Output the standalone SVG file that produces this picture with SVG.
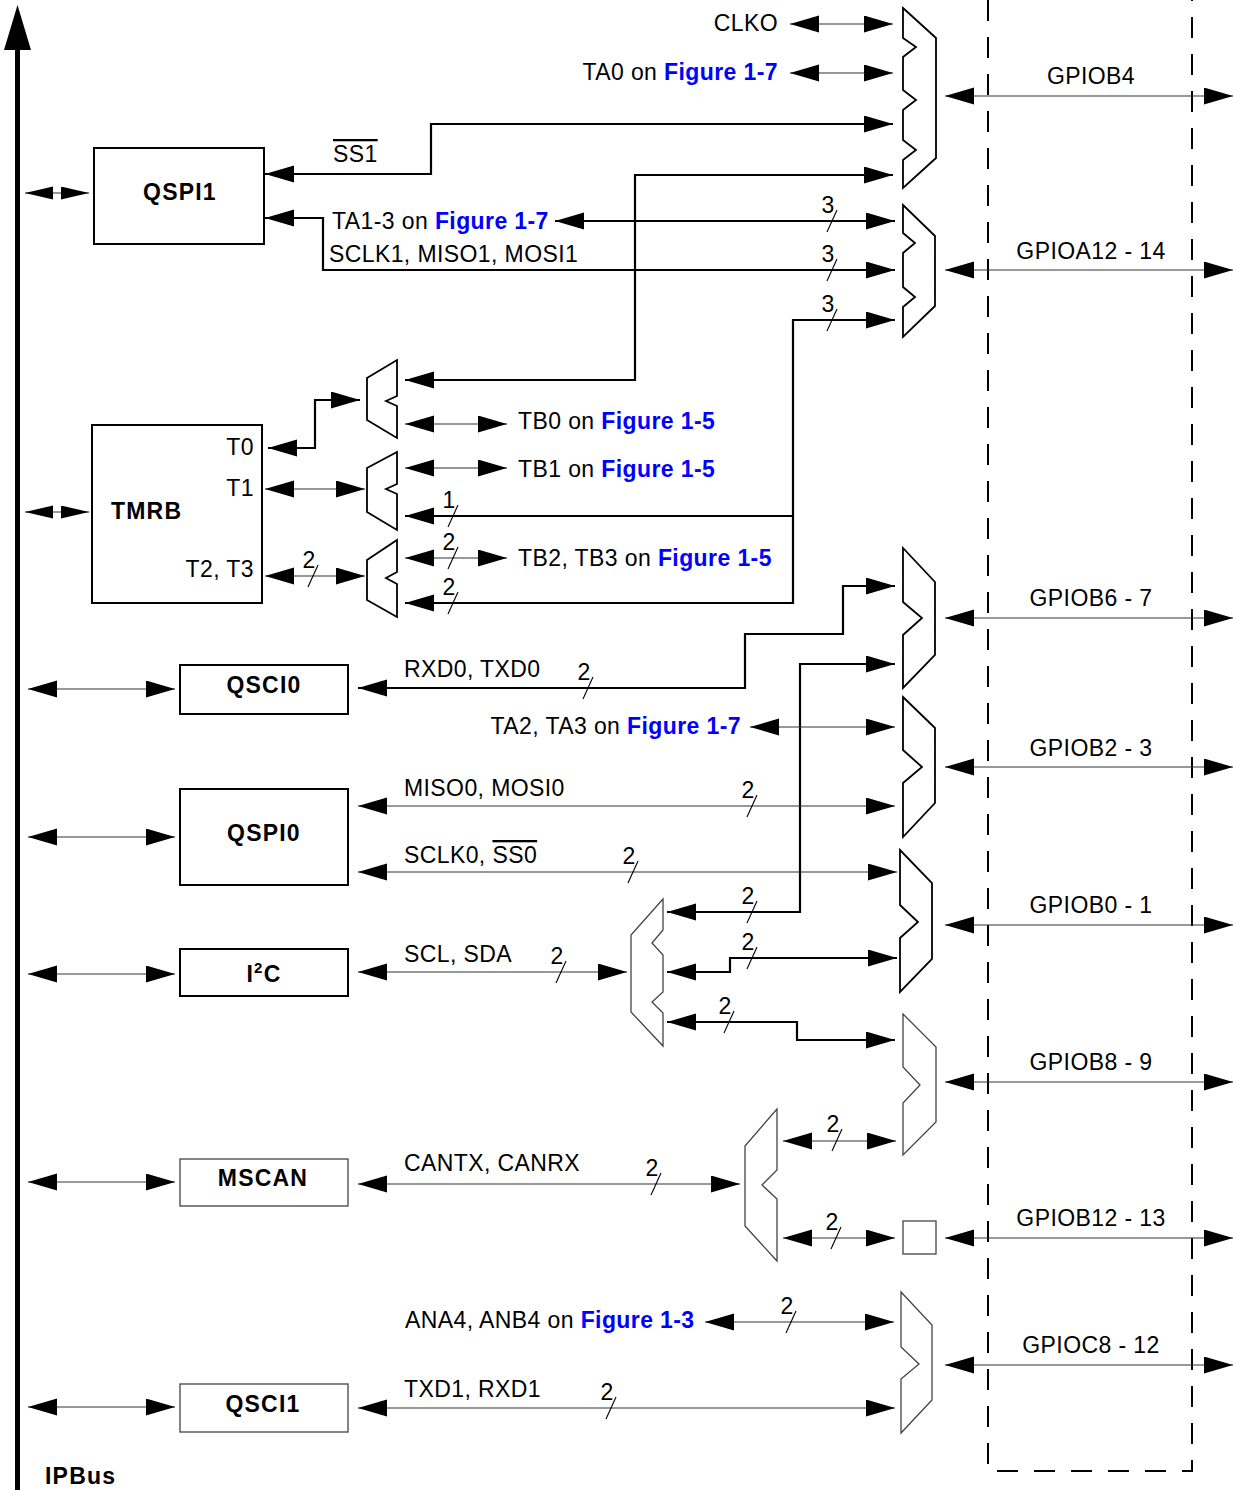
<svg xmlns="http://www.w3.org/2000/svg" width="1233" height="1490" viewBox="0 0 1233 1490">
<style>
.t{font-family:"Liberation Sans",Arial,sans-serif;font-size:23px;letter-spacing:0.4px;fill:#000}
.b{font-weight:bold;letter-spacing:1.2px}
.f{fill:#0000ff;font-weight:bold}
.m{text-anchor:middle}
.e{text-anchor:end}
.thin{fill:none;stroke:#333;stroke-width:1.2}
.thick{fill:none;stroke:#000;stroke-width:2.2}
.bi{marker-start:url(#ah);marker-end:url(#ah)}
.bis{marker-start:url(#ahs);marker-end:url(#ahs)}
.one{marker-end:url(#ah)}
.box{fill:#fff;stroke:#000;stroke-width:2}
.box2{fill:#fff;stroke:#444;stroke-width:1.3}
.mux{fill:#fff;stroke:#000;stroke-width:1.8}
.mux2{fill:#fff;stroke:#444;stroke-width:1.3}
.sl{stroke:#000;stroke-width:1.1}
.ov{text-decoration:overline}
</style>
<defs>
<marker id="ah" markerUnits="userSpaceOnUse" markerWidth="30" markerHeight="18" viewBox="0 0 30 18" refX="29" refY="8.5" orient="auto-start-reverse"><path d="M0,0 L29,8.5 L0,17 z" fill="#000"/></marker>
<marker id="ahs" markerUnits="userSpaceOnUse" markerWidth="30" markerHeight="14" viewBox="0 0 30 14" refX="28" refY="6.5" orient="auto-start-reverse"><path d="M0,0 L28,6.5 L0,13 z" fill="#000"/></marker>
</defs>
<rect width="1233" height="1490" fill="#fff"/>

<!-- dashed pad region -->
<g id="pad-region">
<path d="M988,0 V1471 H1192 V0" fill="none" stroke="#000" stroke-width="2" stroke-dasharray="21 16"/>
</g>

<!-- IPBus -->
<g id="ipbus">
<line x1="17.5" y1="45" x2="17.5" y2="1490" stroke="#000" stroke-width="5"/>
<polygon points="17.5,5 31,50 4,50" fill="#000"/>
<text class="t b" x="45" y="1484">IPBus</text>
</g>

<g id="connectors">
<!-- top mux inputs -->
<path class="thin bi" d="M790,24 H893"/>
<path class="thin bi" d="M790,73 H893"/>
<path class="thick bi" d="M893,124 H431 V174 H265"/>
<path class="thick bi" d="M405,380 H635 V175 H893"/>
<!-- mux2 inputs -->
<path class="thick bi" d="M555,221 H895"/>
<path class="thick bi" d="M265,218 H323 V270 H895"/>
<path class="thick bi" d="M895,320 H793 V603 H405"/>
<path class="thick one" d="M793,516 H405"/>
<!-- TMRB -->
<path class="thick bi" d="M268,448 H315 V400 H360"/>
<path class="thin bi" d="M405,424 H507"/>
<path class="thin bi" d="M405,468 H507"/>
<path class="thin bi" d="M265,489 H365"/>
<path class="thin bi" d="M405,558 H507"/>
<path class="thin bi" d="M265,576 H365"/>
<path class="thin bis" d="M25,193 H89"/>
<path class="thin bis" d="M25,512 H89"/>
<!-- middle -->
<path class="thick bi" d="M358,688 H745 V634 H843 V586 H895"/>
<path class="thick bi" d="M895,664 H800 V912 H667"/>
<path class="thin bi" d="M750,727 H895"/>
<path class="thin bi" d="M358,806 H895"/>
<path class="thin bi" d="M358,872 H897"/>
<path class="thin bi" d="M358,972 H627"/>
<path class="thick bi" d="M667,972 H730 V958 H897"/>
<path class="thick bi" d="M667,1022 H797 V1040 H895"/>
<path class="thin bi" d="M358,1184 H740"/>
<path class="thin bi" d="M783,1141 H896"/>
<path class="thin bi" d="M783,1238 H895"/>
<path class="thin bi" d="M705,1322 H894"/>
<path class="thin bi" d="M358,1408 H895"/>
<!-- IPBus to modules -->
<path class="thin bi" d="M28,689 H175"/>
<path class="thin bi" d="M28,837 H175"/>
<path class="thin bi" d="M28,974 H175"/>
<path class="thin bi" d="M28,1182 H175"/>
<path class="thin bi" d="M28,1407 H175"/>
<!-- GPIO pads -->
<path class="thin bi" d="M945,96 H1233"/>
<path class="thin bi" d="M945,270 H1233"/>
<path class="thin bi" d="M945,618 H1233"/>
<path class="thin bi" d="M945,767 H1233"/>
<path class="thin bi" d="M945,925 H1233"/>
<path class="thin bi" d="M945,1082 H1233"/>
<path class="thin bi" d="M945,1238 H1233"/>
<path class="thin bi" d="M945,1365 H1233"/>
<!-- bus width slashes -->
<g class="sl">
<line x1="827" y1="232" x2="837" y2="210"/>
<line x1="827" y1="281" x2="837" y2="259"/>
<line x1="827" y1="331" x2="837" y2="309"/>
<line x1="448" y1="527" x2="458" y2="505"/>
<line x1="448" y1="569" x2="458" y2="547"/>
<line x1="448" y1="614" x2="458" y2="592"/>
<line x1="308" y1="587" x2="318" y2="565"/>
<line x1="583" y1="699" x2="593" y2="677"/>
<line x1="747" y1="817" x2="757" y2="795"/>
<line x1="628" y1="883" x2="638" y2="861"/>
<line x1="747" y1="923" x2="757" y2="901"/>
<line x1="747" y1="969" x2="757" y2="947"/>
<line x1="724" y1="1033" x2="734" y2="1011"/>
<line x1="556" y1="983" x2="566" y2="961"/>
<line x1="651" y1="1195" x2="661" y2="1173"/>
<line x1="832" y1="1151" x2="842" y2="1129"/>
<line x1="831" y1="1249" x2="841" y2="1227"/>
<line x1="786" y1="1333" x2="796" y2="1311"/>
<line x1="606" y1="1419" x2="616" y2="1397"/>
</g>
</g>

<!-- bus width numbers -->
<g id="bus-widths" class="t m">
<text x="828" y="213">3</text>
<text x="828" y="262">3</text>
<text x="828" y="312">3</text>
<text x="449" y="508">1</text>
<text x="449" y="550">2</text>
<text x="449" y="595">2</text>
<text x="309" y="568">2</text>
<text x="584" y="680">2</text>
<text x="748" y="798">2</text>
<text x="629" y="864">2</text>
<text x="748" y="904">2</text>
<text x="748" y="950">2</text>
<text x="725" y="1014">2</text>
<text x="557" y="964">2</text>
<text x="652" y="1176">2</text>
<text x="833" y="1132">2</text>
<text x="832" y="1230">2</text>
<text x="787" y="1314">2</text>
<text x="607" y="1400">2</text>
</g>

<!-- muxes -->
<g id="mux-gpiob4"><polygon class="mux" points="903,8 936,38 936,158 903,188 903,160 916,150 903,140 903,110 916,100 903,90 903,57 916,47 903,38"/></g>
<g id="mux-gpioa"><polygon class="mux" points="903,205 935,236 935,306 903,337 903,307 915,297 903,287 903,253 915,243 903,233"/></g>
<g id="mux-t0"><polygon class="mux" points="397,360 397,396 386,401 397,406 397,438 367,420 367,378"/></g>
<g id="mux-t1"><polygon class="mux" points="397,452 397,484 386,489 397,494 397,530 367,512 367,468"/></g>
<g id="mux-t23"><polygon class="mux" points="397,540 397,572 386,578 397,584 397,617 367,600 367,560"/></g>
<g id="mux-gpiob6"><polygon class="mux" points="903,548 935,582 935,655 903,688 903,635 922,618 903,602"/></g>
<g id="mux-gpiob2"><polygon class="mux" points="903,697 935,728 935,803 903,837 903,783 922,767 903,750"/></g>
<g id="mux-gpiob0"><polygon class="mux" points="900,850 932,883 932,959 900,992 900,938 918,922 900,905"/></g>
<g id="mux-i2c"><polygon class="mux2" points="663,899 663,930 652,943 663,955 663,992 652,1002 663,1013 663,1046 631,1012 631,935"/></g>
<g id="mux-gpiob8"><polygon class="mux2" points="903,1014 936,1047 936,1122 903,1155 903,1103 920,1085 903,1067"/></g>
<g id="mux-mscan"><polygon class="mux2" points="777,1109 777,1170 762,1185 777,1199 777,1261 745,1226 745,1146"/></g>
<g id="pad-gpiob12"><rect class="box2" x="903" y="1221" width="33" height="33"/></g>
<g id="mux-gpioc"><polygon class="mux2" points="901,1292 932,1325 932,1400 901,1433 901,1379 919,1364 901,1347"/></g>

<!-- modules -->
<g id="qspi1"><rect class="box" x="94" y="148" width="170" height="96"/><text class="t b m" x="180" y="200">QSPI1</text></g>
<g id="tmrb"><rect class="box" x="92" y="425" width="170" height="178"/><text class="t b" x="111" y="519">TMRB</text>
<text class="t e" x="254" y="455">T0</text><text class="t e" x="254" y="496">T1</text><text class="t e" x="254" y="577">T2, T3</text></g>
<g id="qsci0"><rect class="box" x="180" y="665" width="168" height="49"/><text class="t b m" x="264" y="693">QSCI0</text></g>
<g id="qspi0"><rect class="box" x="180" y="789" width="168" height="96"/><text class="t b m" x="264" y="841">QSPI0</text></g>
<g id="i2c"><rect class="box" x="180" y="949" width="168" height="47"/><text class="t b m" x="264" y="982">I<tspan font-size="15" dy="-9">2</tspan><tspan dy="9">C</tspan></text></g>
<g id="mscan"><rect class="box2" x="180" y="1159" width="168" height="47"/><text class="t b m" x="263" y="1186">MSCAN</text></g>
<g id="qsci1"><rect class="box2" x="180" y="1384" width="168" height="48"/><text class="t b m" x="263" y="1412">QSCI1</text></g>

<!-- signal labels -->
<g id="labels" class="t">
<text class="e" x="778" y="31">CLKO</text>
<text class="e" x="778" y="80">TA0 on <tspan class="f">Figure 1-7</tspan></text>
<text x="333" y="162"><tspan class="ov">SS1</tspan></text>
<text x="332" y="229">TA1-3 on <tspan class="f">Figure 1-7</tspan></text>
<text x="329" y="262">SCLK1, MISO1, MOSI1</text>
<text x="518" y="429">TB0 on <tspan class="f">Figure 1-5</tspan></text>
<text x="518" y="477">TB1 on <tspan class="f">Figure 1-5</tspan></text>
<text x="518" y="566">TB2, TB3 on <tspan class="f">Figure 1-5</tspan></text>
<text x="404" y="677">RXD0, TXD0</text>
<text class="e" x="741" y="734">TA2, TA3 on <tspan class="f">Figure 1-7</tspan></text>
<text x="404" y="796">MISO0, MOSI0</text>
<text x="404" y="863">SCLK0, <tspan class="ov">SS0</tspan></text>
<text x="404" y="962">SCL, SDA</text>
<text x="404" y="1171">CANTX, CANRX</text>
<text x="405" y="1328">ANA4, ANB4 on <tspan class="f">Figure 1-3</tspan></text>
<text x="404" y="1397">TXD1, RXD1</text>
</g>
<g id="gpio-labels" class="t m">
<text x="1091" y="84">GPIOB4</text>
<text x="1091" y="259">GPIOA12 - 14</text>
<text x="1091" y="606">GPIOB6 - 7</text>
<text x="1091" y="756">GPIOB2 - 3</text>
<text x="1091" y="913">GPIOB0 - 1</text>
<text x="1091" y="1070">GPIOB8 - 9</text>
<text x="1091" y="1226">GPIOB12 - 13</text>
<text x="1091" y="1353">GPIOC8 - 12</text>
</g>
</svg>
